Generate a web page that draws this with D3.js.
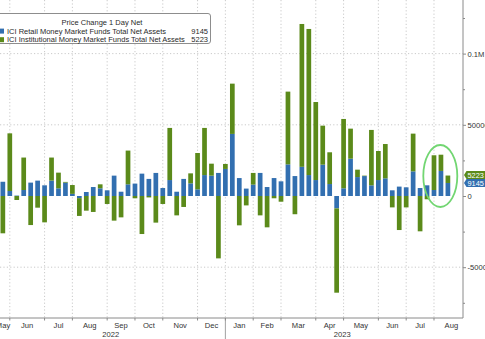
<!DOCTYPE html>
<html><head><meta charset="utf-8">
<script src="https://cdn.jsdelivr.net/npm/d3@7"></script>
<style>
body{margin:0;background:#fff;}
svg{display:block;}
text{font-family:"Liberation Sans",Arial,sans-serif;}
</style>
</head><body>
<svg id="c" width="485" height="339"></svg>
<script>
// ---------- DATA ----------
const dates = [
 "2022-05-25","2022-06-01","2022-06-08","2022-06-15","2022-06-22","2022-06-29",
 "2022-07-06","2022-07-13","2022-07-20","2022-07-27","2022-08-03","2022-08-10",
 "2022-08-17","2022-08-24","2022-08-31","2022-09-07","2022-09-14","2022-09-21",
 "2022-09-28","2022-10-05","2022-10-12","2022-10-19","2022-10-26","2022-11-02",
 "2022-11-09","2022-11-16","2022-11-23","2022-11-30","2022-12-07","2022-12-14",
 "2022-12-21","2022-12-28","2023-01-04","2023-01-11","2023-01-18","2023-01-25",
 "2023-02-01","2023-02-08","2023-02-15","2023-02-22","2023-03-01","2023-03-08",
 "2023-03-15","2023-03-22","2023-03-29","2023-04-05","2023-04-12","2023-04-19",
 "2023-04-26","2023-05-03","2023-05-10","2023-05-17","2023-05-24","2023-05-31",
 "2023-06-07","2023-06-14","2023-06-21","2023-06-28","2023-07-05","2023-07-12",
 "2023-07-19","2023-07-26","2023-08-02","2023-08-09","2023-08-16"];
const retail = [
 10000, 3500, 300, 4200, 9400, 10800, 7500, 10800, 5400, 9400, 1500, -1500,
 2800, 6300, 5400, 4000, 14300, 3000, 8200, 8700, 15700, 12000, 16200, 5600,
 11200, 3000, 12000, 8900, 4700, 14700, 14300, 16200, 19000, 43600, 12600, 5200,
 8000, 16200, 6300, 12600, 10300, 22200, 14000, 20500, 14700, 11200, 22000, 8400,
 -8700, 5400, 26200, 13300, 14000, 7500, 11200, 12400, 4000, 6600, 6100, 17300,
 5600, 7500, 4200, 17600, 9145];
const institutional = [
 -26200, 40500, -2800, 22800, -20400, -8200, -18500, 16200, 11000, 500, 6200, -12500,
 -10300, -11200, 2800, -5600, -17300, -15000, 23700, -1600, -26700, -1000, -18700, -5600,
 36600, -13600, -7700, 7000, 25500, 33100, 8400, -43800, 3500, 35300, -20600, -6600,
 8200, -13600, -22000, -1600, -4000, 51100, -12800, 100300, 102600, 54800, 27400, 22300,
 -59200, 48700, 21100, 5200, 300, 38900, 20400, 24100, -8000, -23900, -8000, 26500,
 -24800, -2300, 24400, 11400, 5223];
const seriesNames = ["ICI Retail Money Market Funds Total Net Assets",
                     "ICI Institutional Money Market Funds Total Net Assets"];
const lastValues = ["9145", "5223"];
const legendTitle = "Price Change 1 Day Net";
const yTicks = [-50000, 0, 50000, 100000];
const yTickLabels = ["-50000", "0", "50000", "0.1M"];
const yGridTicks = [-50000, 50000, 100000];
const yMinorTicks = [-75000, -25000, 25000, 75000, 125000];
const colors = ["#326fb0", "#5b8a1a"];

// ---------- SETUP ----------
const svg = d3.select("#c");
const W = 485, H = 339;
const plotRight = 463, plotBottom = 318;
const parse = d3.timeParse("%Y-%m-%d");
const data = dates.map((d, i) => ({date: parse(d), retail: retail[i], institutional: institutional[i]}));

const x = d3.scaleTime()
  .domain([parse("2022-05-25"), parse("2023-08-16")])
  .range([2.85, 447.9]);
const y = d3.scaleLinear().domain([-50000, 100000]).range([267.2, 53.6]);

const gridColor = "#bdbdbd";

svg.append("defs").append("clipPath").attr("id", "plot")
  .append("rect").attr("x", 0).attr("y", 0).attr("width", plotRight).attr("height", plotBottom);

const months = d3.timeMonth.range(new Date(2022, 4, 1), new Date(2023, 8, 1));
const firstWed = m => d3.timeWednesday.ceil(m);
const grid = svg.append("g").attr("clip-path", "url(#plot)");

months.forEach(m => {
  const gx = x(firstWed(m));
  if (gx > 0 && gx < plotRight) {
    grid.append("line").attr("x1", gx).attr("x2", gx).attr("y1", 0).attr("y2", plotBottom)
      .attr("stroke", gridColor).attr("stroke-width", 0.8).attr("stroke-dasharray", "1.2,2.2");
  }
});
yGridTicks.forEach(t => {
  grid.append("line").attr("x1", 0).attr("x2", plotRight).attr("y1", y(t)).attr("y2", y(t))
    .attr("stroke", gridColor).attr("stroke-width", 0.8).attr("stroke-dasharray", "1.2,2.2");
});

// ---------- BARS ----------
const stack = d3.stack().keys(["retail", "institutional"]).offset(d3.stackOffsetDiverging);
const series = stack(data);
const bw = 4.7;
const bars = svg.append("g").attr("clip-path", "url(#plot)");
series.forEach((s, si) => {
  bars.append("g").attr("fill", colors[si]).selectAll("rect").data(s).join("rect")
    .attr("x", d => x(d.data.date) - bw / 2)
    .attr("width", bw)
    .attr("y", d => y(Math.max(d[0], d[1])))
    .attr("height", d => Math.abs(y(d[0]) - y(d[1])));
});

// ---------- AXES ----------
const axisColor = "#8a8a8a";
svg.append("line").attr("x1", 0).attr("x2", plotRight).attr("y1", plotBottom).attr("y2", plotBottom)
  .attr("stroke", axisColor).attr("stroke-width", 1);
svg.append("line").attr("x1", plotRight).attr("x2", plotRight).attr("y1", 0).attr("y2", plotBottom)
  .attr("stroke", axisColor).attr("stroke-width", 1);

const yAxis = d3.axisRight(y).tickValues(yTicks).tickSize(3).tickPadding(1.5)
  .tickFormat((d, i) => yTickLabels[i]);
const ya = svg.append("g").attr("transform", `translate(${plotRight},0)`).call(yAxis);
ya.select(".domain").remove();
ya.selectAll("line").attr("stroke", axisColor);
ya.selectAll("text").attr("fill", "#333").attr("font-size", 7.6)
  .attr("font-family", "Liberation Sans, Arial, sans-serif");
const yMinor = d3.axisRight(y).tickValues(yMinorTicks).tickSize(2).tickFormat("");
const ym = svg.append("g").attr("transform", `translate(${plotRight},0)`).call(yMinor);
ym.select(".domain").remove();
ym.selectAll("line").attr("stroke", axisColor);

const labels = svg.append("g");
months.forEach((m, i) => {
  const gx = x(firstWed(m));
  const nx = x(firstWed(d3.timeMonth.offset(m, 1)));
  if (gx > 0 && gx < plotRight) {
    svg.append("line").attr("x1", gx).attr("x2", gx).attr("y1", plotBottom).attr("y2", plotBottom + 2.5)
      .attr("stroke", axisColor);
  }
  const lx = Math.max((gx + nx) / 2, 3);
  labels.append("text").attr("x", lx).attr("y", 327.5).attr("text-anchor", "middle")
    .attr("font-size", 7.6).attr("fill", "#333").text(d3.timeFormat("%b")(m));
});

const janX = x(firstWed(new Date(2023, 0, 1)));
svg.append("line").attr("x1", janX).attr("x2", janX).attr("y1", plotBottom).attr("y2", H)
  .attr("stroke", axisColor).attr("stroke-width", 0.8);
const years = ["2022", "2023"];
[[0, janX], [janX, plotRight]].forEach((r, i) => {
  svg.append("text").attr("x", (r[0] + r[1]) / 2 - 2).attr("y", 337).attr("text-anchor", "middle")
    .attr("font-size", 7.6).attr("fill", "#333").text(years[i]);
});

// ---------- LAST VALUE BADGES ----------
const badgeY = [y(retail[retail.length - 1]), y(retail[retail.length - 1]) - 8];
[1, 0].forEach(si => {
  const cy = badgeY[si];
  const g = svg.append("g");
  g.append("path")
    .attr("d", `M${plotRight + 1},${cy} L${plotRight + 3.5},${cy - 4} L${W + 2},${cy - 4} L${W + 2},${cy + 4} L${plotRight + 3.5},${cy + 4} Z`)
    .attr("fill", colors[si]);
  g.append("text").attr("x", plotRight + 4.5).attr("y", cy + 2.7).attr("font-size", 7.4)
    .attr("fill", "#fff").text(lastValues[si]);
});

// ---------- HIGHLIGHT ELLIPSE ----------
svg.append("ellipse").attr("cx", 440.3).attr("cy", 176).attr("rx", 17).attr("ry", 31)
  .attr("fill", "none").attr("stroke", "#72d672").attr("stroke-width", 1.8);

// ---------- LEGEND ----------
const lg = svg.append("g");
lg.append("rect").attr("x", -5).attr("y", 13.5).attr("width", 215.5).attr("height", 30).attr("rx", 2.5)
  .attr("fill", "#fff").attr("stroke", "#8d8d8d").attr("stroke-width", 1);
lg.append("text").attr("x", 102).attr("y", 24.8).attr("text-anchor", "middle")
  .attr("font-size", 7.5).attr("fill", "#2a2a2a").text(legendTitle);
seriesNames.forEach((n, i) => {
  const by = 33.6 + i * 8.6;
  lg.append("rect").attr("x", 0).attr("y", by - 5).attr("width", 4).attr("height", 5).attr("fill", colors[i]);
  lg.append("text").attr("x", 7).attr("y", by).attr("font-size", 7.5).attr("fill", "#2a2a2a").text(n);
  lg.append("text").attr("x", 208).attr("y", by).attr("text-anchor", "end")
    .attr("font-size", 7.5).attr("fill", "#2a2a2a").text(lastValues[i]);
});
</script>
</body></html>
